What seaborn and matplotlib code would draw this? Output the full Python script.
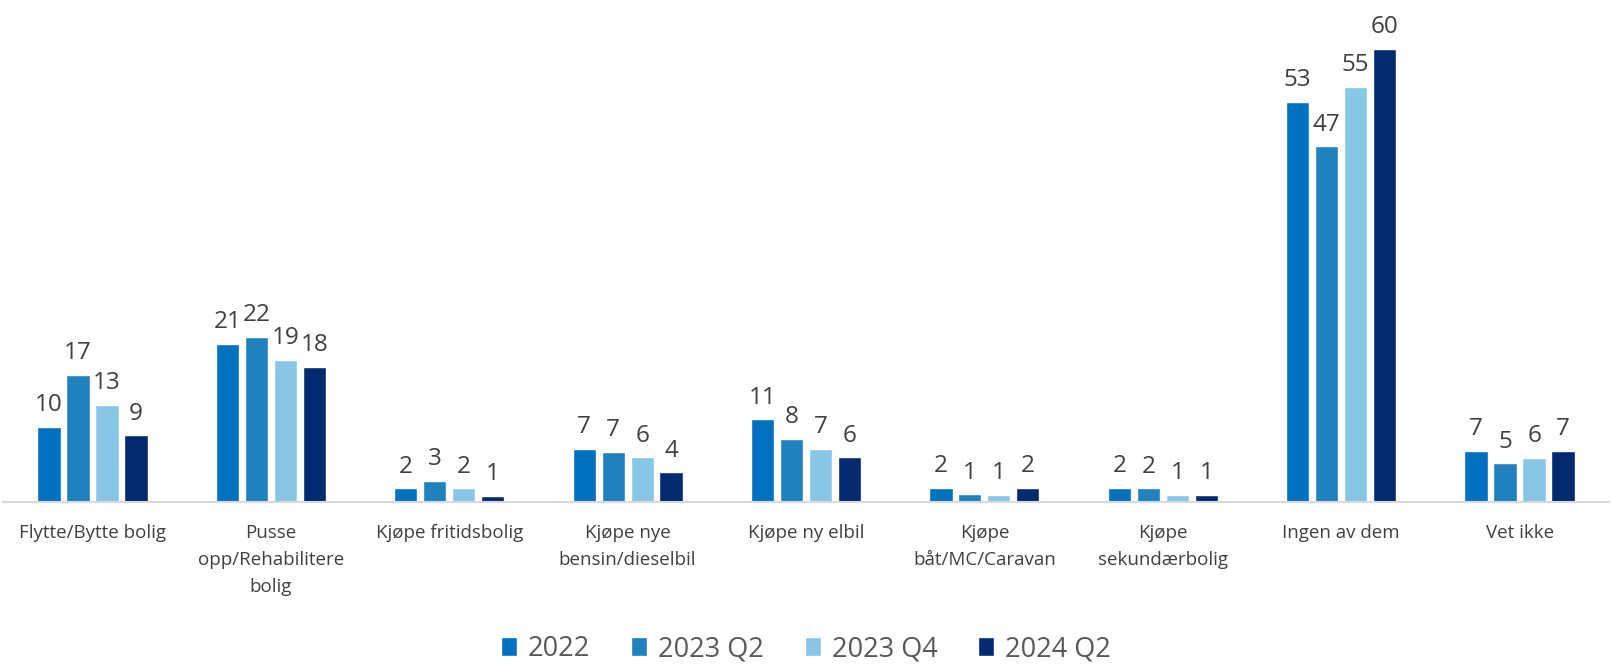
import pandas as pd
import matplotlib.pyplot as plt
import seaborn as sns

categories = ["Flytte/Bytte bolig", "Pusse\nopp/Rehabilitere\nbolig", "Kjøpe fritidsbolig",
              "Kjøpe nye\nbensin/dieselbil", "Kjøpe ny elbil", "Kjøpe\nbåt/MC/Caravan",
              "Kjøpe\nsekundærbolig", "Ingen av dem", "Vet ikke"]
series = ["2022", "2023 Q2", "2023 Q4", "2024 Q2"]
v2022 = [9.9, 20.9, 1.8, 7.0, 10.9, 1.9, 1.9, 52.9, 6.8]
v2023q2 = [16.8, 21.8, 2.8, 6.6, 8.3, 1.0, 1.8, 47.0, 5.1]
v2023q4 = [12.8, 18.8, 1.8, 5.9, 7.0, 0.9, 0.9, 54.9, 5.8]
v2024q2 = [8.8, 17.9, 0.8, 3.9, 5.9, 1.9, 0.9, 59.9, 6.8]
colors = ["#0070C0", "#1F82BE", "#88C6E5", "#03296F"]

rows = []
for s, vals in zip(series, [v2022, v2023q2, v2023q4, v2024q2]):
    for c, v in zip(categories, vals):
        rows.append({"Kategori": c, "Periode": s, "Verdi": v})
df = pd.DataFrame(rows)

sns.set_style("white")
plt.rcParams["font.family"] = ["Open Sans", "DejaVu Sans"]
text_col = "#404040"

fig = plt.figure(figsize=(16.12, 6.64), dpi=100)
ax = fig.add_axes([0.002, 0.244, 0.996, 0.726])
sns.barplot(data=df, x="Kategori", y="Verdi", hue="Periode", palette=colors,
            saturation=1, width=0.65, gap=0.2, ax=ax, legend=True)

for cont in ax.containers:
    ax.bar_label(cont, fmt="%.0f", padding=7, fontsize=17.5, color=text_col)

ax.set_ylim(0, 63.7)
ax.set_xlim(-0.5, len(categories) - 0.5)
ax.set_xlabel("")
ax.set_ylabel("")
ax.set_yticks([])
for sp in ["top", "right", "left"]:
    ax.spines[sp].set_visible(False)
ax.spines["bottom"].set_color("#D9D9D9")
ax.spines["bottom"].set_linewidth(1.5)
ax.tick_params(axis="x", length=0, pad=16, labelsize=13.5, labelcolor=text_col)
for lab in ax.get_xticklabels():
    lab.set_linespacing(1.65)

handles, labels = ax.get_legend_handles_labels()
ax.legend_.remove()
fig.legend(handles, labels, loc="center", bbox_to_anchor=(0.5, 0.022), ncol=4,
           frameon=False, fontsize=19.5, handlelength=0.6, handleheight=0.7,
           handletextpad=0.4, columnspacing=1.5, labelcolor="#595959")

fig.savefig("out.png", dpi=100)
